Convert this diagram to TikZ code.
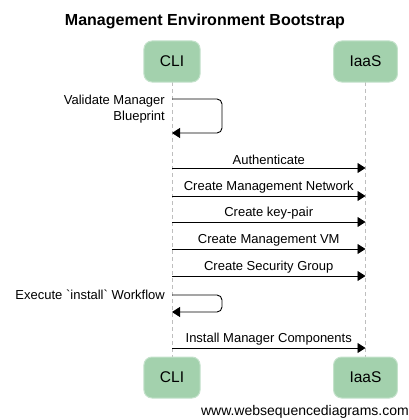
\documentclass[tikz,border=0pt]{standalone}
\usepackage{fontspec}
\setmainfont{Liberation Sans}[Ligatures=TeXOff]
\usetikzlibrary{arrows.meta}

\definecolor{actorgreen}{RGB}{163,209,173}
\definecolor{actoredge}{RGB}{196,226,203}
\definecolor{lifegray}{RGB}{190,190,190}

\tikzset{
    actor/.style={draw=actoredge, line width=1pt, fill=actorgreen, rounded corners=8pt,
        inner xsep=16pt, minimum height=41pt, font=\fontsize{15.5}{18}\selectfont},
    lifeline/.style={draw=lifegray, line width=0.8pt, dash pattern=on 4pt off 3pt},
    msg/.style={line width=0.9pt, -{Triangle[length=8pt,width=10pt]}},
    selfmsg/.style={line width=0.9pt, rounded corners=5pt, -{Triangle[length=8pt,width=10pt]}},
    msglabel/.style={font=\fontsize{13}{16}\selectfont, inner sep=1pt}
}

\begin{document}
\begin{tikzpicture}[x=1pt, y=-1pt]
        \useasboundingbox (0, 0) rectangle (409, 420);

        \node[font=\bfseries\fontsize{16}{18}\selectfont] (title) at (205, 21) {Management Environment Bootstrap};

        % lifelines first, boxes on top
        \coordinate (cliTopEnd) at (172, 82);
        \coordinate (cliBotEnd) at (172, 357);
        \coordinate (iaasTopEnd) at (365.5, 82);
        \coordinate (iaasBotEnd) at (365.5, 357);
        \draw[lifeline] (cliTopEnd) -- (cliBotEnd);
        \draw[lifeline] (iaasTopEnd) -- (iaasBotEnd);

        \node[actor] (cliTop) at (172, 61.5) {CLI};
        \node[actor] (iaasTop) at (365.5, 61.5) {IaaS};
        \node[actor] (cliBot) at (172, 377.5) {CLI};
        \node[actor] (iaasBot) at (365.5, 377.5) {IaaS};

        % validate blueprint
        \coordinate (valFrom) at (172, 99);
        \coordinate (valTo) at (172, 133);
        \draw[selfmsg] (valFrom) -- (222, 99) -- (222, 133) -- (valTo);
        \node[msglabel, anchor=east, align=right] (valText) at (166, 109) {Validate Manager\\Blueprint};

        % calls to IaaS
        \coordinate (auC) at (172, 168);
        \coordinate (auI) at (365.5, 168);
        \draw[msg] (auC) -- node[msglabel, above=1.5pt] (auText) {Authenticate} (auI);

        \coordinate (netC) at (172, 196);
        \coordinate (netI) at (365.5, 196);
        \draw[msg] (netC) -- node[msglabel, above=1.5pt] (netText) {Create Management Network} (netI);

        \coordinate (keyC) at (172, 222);
        \coordinate (keyI) at (365.5, 222);
        \draw[msg] (keyC) -- node[msglabel, above=1.5pt] (keyText) {Create key-pair} (keyI);

        \coordinate (vmC) at (172, 249);
        \coordinate (vmI) at (365.5, 249);
        \draw[msg] (vmC) -- node[msglabel, above=1.5pt] (vmText) {Create Management VM} (vmI);

        \coordinate (sgC) at (172, 276);
        \coordinate (sgI) at (365.5, 276);
        \draw[msg] (sgC) -- node[msglabel, above=1.5pt] (sgText) {Create Security Group} (sgI);

        % install workflow
        \coordinate (wfFrom) at (172, 295);
        \coordinate (wfTo) at (172, 312);
        \draw[selfmsg] (wfFrom) -- (222, 295) -- (222, 312) -- (wfTo);
        \node[msglabel, anchor=east] (wfText) at (166, 295) {Execute `install` Workflow};

        \coordinate (instC) at (172, 348);
        \coordinate (instI) at (365.5, 348);
        \draw[msg] (instC) -- node[msglabel, above=1.5pt] (instText) {Install Manager Components} (instI);

        \node[font=\fontsize{14}{16}\selectfont, anchor=east, inner sep=0pt] (site) at (409, 412) {www.websequencediagrams.com};
    \end{tikzpicture}
\end{document}
